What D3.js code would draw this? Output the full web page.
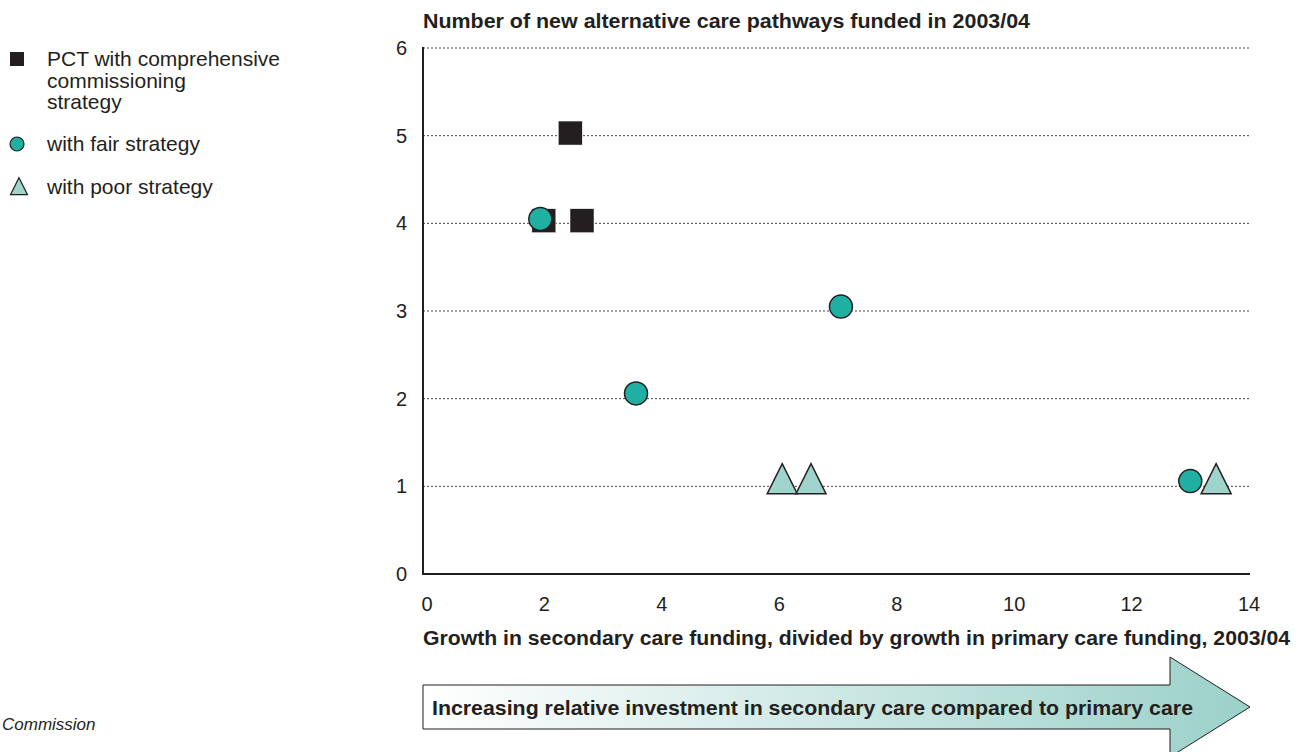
<!DOCTYPE html>
<html><head><meta charset="utf-8">
<script src="https://cdn.jsdelivr.net/npm/d3@7"></script>
<style>body{margin:0;background:#fff}svg{display:block}text{font-family:"Liberation Sans",Arial,sans-serif}</style>
</head><body>
<script>
const xTicks = [0, 2, 4, 6, 8, 10, 12, 14];
const yTicks = [0, 1, 2, 3, 4, 5, 6];
const comprehensiveX = [2.44, 1.99, 2.64];
const comprehensiveY = [5.03, 4.03, 4.03];
const fairX = [1.93, 3.56, 7.05, 13.0];
const fairY = [4.05, 2.06, 3.05, 1.06];
const poorX = [6.05, 6.54, 13.44];
const poorY = [1.07, 1.07, 1.07];
const legendLabels = [["PCT with comprehensive", "commissioning", "strategy"], ["with fair strategy"], ["with poor strategy"]];

const W = 1309, H = 752;
const svg = d3.select("body").append("svg").attr("width", W).attr("height", H);
const x = d3.scaleLinear().domain([0, 14]).range([427, 1249]);
const y = d3.scaleLinear().domain([0, 6]).range([574, 48]);
const col = {sq: "#231f20", fair: "#1fb0a2", poor: "#9fd4cc"};

// gridlines
svg.append("g").selectAll("line").data(yTicks.filter(d => d > 0)).join("line")
  .attr("x1", 423).attr("x2", 1250).attr("y1", d => y(d)).attr("y2", d => y(d))
  .attr("stroke", "#444").attr("stroke-width", 1).attr("stroke-dasharray", "2,2");

// axes lines
svg.append("line").attr("x1", 423).attr("x2", 423).attr("y1", y(6) - 1).attr("y2", y(0) + 1)
  .attr("stroke", "#231f20").attr("stroke-width", 2);
svg.append("line").attr("x1", 422).attr("x2", 1250).attr("y1", y(0)).attr("y2", y(0))
  .attr("stroke", "#231f20").attr("stroke-width", 2);

// tick labels
svg.append("g").selectAll("text").data(yTicks).join("text")
  .attr("x", 407).attr("y", d => y(d)).attr("dy", "0.35em").attr("text-anchor", "end")
  .attr("font-size", 20).attr("fill", "#231f20").text(d => d);
svg.append("g").selectAll("text").data(xTicks).join("text")
  .attr("x", d => x(d)).attr("y", 604).attr("dy", "0.35em").attr("text-anchor", "middle")
  .attr("font-size", 20).attr("fill", "#231f20").text(d => d);

// titles
svg.append("text").attr("x", 423).attr("y", 28).attr("font-size", 21).attr("font-weight", "bold")
  .attr("fill", "#231f20").attr("textLength", 607).attr("lengthAdjust", "spacingAndGlyphs")
  .text("Number of new alternative care pathways funded in 2003/04");
svg.append("text").attr("x", 423).attr("y", 645).attr("font-size", 21).attr("font-weight", "bold")
  .attr("fill", "#231f20").attr("textLength", 867).attr("lengthAdjust", "spacingAndGlyphs")
  .text("Growth in secondary care funding, divided by growth in primary care funding, 2003/04");

// markers
const sqS = 24;
svg.append("g").selectAll("rect").data(d3.range(comprehensiveX.length)).join("rect")
  .attr("x", i => x(comprehensiveX[i]) - sqS / 2).attr("y", i => y(comprehensiveY[i]) - sqS / 2)
  .attr("width", sqS).attr("height", sqS).attr("fill", col.sq).attr("stroke", "#fff").attr("stroke-width", 0.5);
svg.append("g").selectAll("circle").data(d3.range(fairX.length)).join("circle")
  .attr("cx", i => x(fairX[i])).attr("cy", i => y(fairY[i])).attr("r", 11.5)
  .attr("fill", col.fair).attr("stroke", "#231f20").attr("stroke-width", 1.5);
function tri(cx, cy, w, h) {
  return `M${cx},${cy - h * 0.55}L${cx + w / 2},${cy + h * 0.45}L${cx - w / 2},${cy + h * 0.45}Z`;
}
svg.append("g").selectAll("path").data(d3.range(poorX.length)).join("path")
  .attr("d", i => tri(x(poorX[i]), y(poorY[i]), 30, 30))
  .attr("fill", col.poor).attr("stroke", "#231f20").attr("stroke-width", 1.5).attr("stroke-linejoin", "miter");

// legend
const lg = svg.append("g");
lg.append("rect").attr("x", 10).attr("y", 52).attr("width", 14).attr("height", 14).attr("fill", col.sq);
lg.append("circle").attr("cx", 17).attr("cy", 144).attr("r", 7).attr("fill", col.fair).attr("stroke", "#231f20").attr("stroke-width", 1.2);
lg.append("path").attr("d", tri(19, 187, 17, 17)).attr("fill", col.poor).attr("stroke", "#231f20").attr("stroke-width", 1.2);
const legY = [66, 151, 194];
legendLabels.forEach((lines, i) => {
  const t = lg.append("text").attr("x", 47).attr("y", legY[i]).attr("font-size", 21).attr("fill", "#231f20");
  lines.forEach((l, j) => t.append("tspan").attr("x", 47).attr("dy", j === 0 ? 0 : 21.5).text(l));
});

// arrow
const defs = svg.append("defs");
const grad = defs.append("linearGradient").attr("id", "ag").attr("x1", "0%").attr("x2", "100%");
grad.append("stop").attr("offset", "0%").attr("stop-color", "#ffffff");
grad.append("stop").attr("offset", "100%").attr("stop-color", "#9bd1c9");
svg.append("path")
  .attr("d", "M423,685L1170,685L1170,657L1250,707L1170,757L1170,729L423,729Z")
  .attr("fill", "url(#ag)").attr("stroke", "#231f20").attr("stroke-width", 1);
svg.append("text").attr("x", 432).attr("y", 715).attr("font-size", 21).attr("font-weight", "bold")
  .attr("fill", "#231f20").attr("textLength", 761).attr("lengthAdjust", "spacingAndGlyphs")
  .text("Increasing relative investment in secondary care compared to primary care");

// source
svg.append("text").attr("x", 2).attr("y", 730).attr("font-size", 17)
  .attr("font-style", "italic").attr("fill", "#231f20").text("Commission");
</script>
</body></html>
